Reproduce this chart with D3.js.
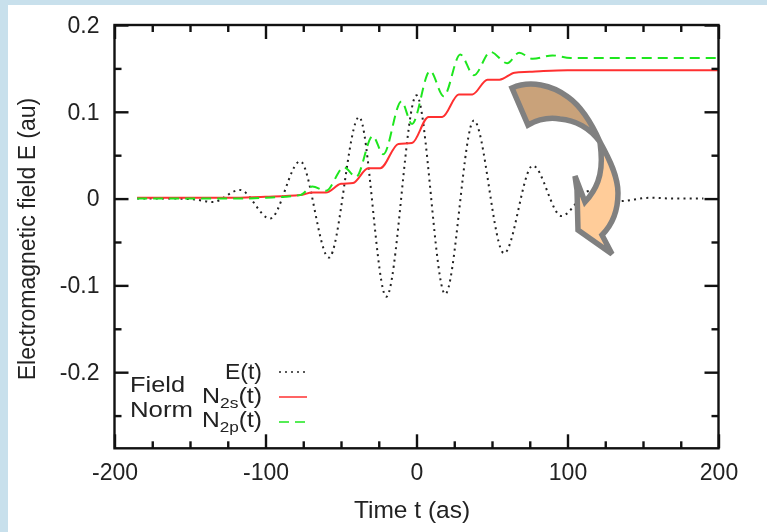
<!DOCTYPE html>
<html><head><meta charset="utf-8">
<script src="https://d3js.org/d3.v7.min.js"></script>
<style>html,body{margin:0;padding:0;background:#fff}svg{display:block}text{font-family:"Liberation Sans",Arial,sans-serif;fill:#222}</style>
</head><body><div id="c"></div>
<script>
const xTicksMajor=[-200,-100,0,100,200];
const xTicksMinor=[-175,-150,-125,-75,-50,-25,25,50,75,125,150,175];
const yTicksMajor=[0.2,0.1,0,-0.1,-0.2];
const yTicksMinor=[0.15,0.05,-0.05,-0.15,-0.25];
const fieldT=[-185,-160,-147,-135,-117,-97,-77,-58,-38,-20,0,19,38,58,77,96,115,134,155,170,190];
const fieldE=[0,0,-0.001,-0.004,0.01,-0.023,0.043,-0.068,0.094,-0.113,0.119,-0.11,0.09,-0.063,0.038,-0.02,0.009,-0.003,0.001,0,0];
const n2sT=[-185,-120,-100,-77,-69,-60,-50,-42,-32,-24,-12,-3,8,17,28,37,47,55,65,75,84,100,200];
const n2sV=[0.001,0.001,0.002,0.004,0.007,0.007,0.017,0.018,0.035,0.035,0.063,0.064,0.094,0.094,0.12,0.12,0.137,0.137,0.145,0.146,0.147,0.148,0.148];
const n2pT=[-185,-120,-100,-77,-69,-60,-48,-40,-29,-22,-10,-3,9,18,29,38,49,60,68,77,90,102,200];
const n2pV=[0,0,0.001,0.004,0.014,0.009,0.036,0.025,0.072,0.051,0.112,0.086,0.147,0.118,0.166,0.142,0.169,0.156,0.168,0.161,0.165,0.162,0.162];

const W=767,H=532,L=114.5,R=718.5,T=25,B=448.3;
const svg=d3.select("#c").append("svg").attr("width",W).attr("height",H);
svg.append("rect").attr("width",W).attr("height",H).attr("fill","#c8e0ec");
svg.append("rect").attr("x",8).attr("y",5).attr("width",W-8).attr("height",H-5).attr("fill","#fff");
const g=svg.append("g").style("filter","blur(0.5px)");
const x=d3.scaleLinear().domain([-200,200]).range([L,R]);
const y=d3.scaleLinear().domain([0.2,-0.2877]).range([T,B]);
const line=d3.line().x(d=>x(d[0])).y(d=>y(d[1])).curve(d3.curveMonotoneX);

g.append("path").attr("d",line(d3.zip(fieldT,fieldE))).attr("fill","none").attr("stroke","#222").attr("stroke-width",2).attr("stroke-dasharray","2 4.2");
g.append("path").attr("d",line(d3.zip(n2sT,n2sV))).attr("fill","none").attr("stroke","#ff3030").attr("stroke-width",2);
g.append("path").attr("d",line(d3.zip(n2pT,n2pV))).attr("fill","none").attr("stroke","#1ee61e").attr("stroke-width",2).attr("stroke-dasharray","10 6");

function ax(gen,tr,size,vals,labels){
  const a=g.append("g").attr("transform",tr).call(gen.tickValues(vals).tickSize(size).tickSizeOuter(0).tickFormat(labels?labels:""));
  a.selectAll("path.domain").remove();
  a.selectAll("line").attr("stroke","#111").attr("stroke-width",2.4);
  return a;
}
const fy=d=>d===0?"0":d3.format(".1f")(d).replace("\u2212","-");
const fx=d=>String(d);
const fs=23;
let a1=ax(d3.axisBottom(x),`translate(0,${B})`,-14,xTicksMajor,fx);
a1.selectAll("text").attr("y",15).attr("dy","0.71em").attr("font-size",fs).style("fill","#222");
ax(d3.axisBottom(x),`translate(0,${B})`,-7,xTicksMinor);
ax(d3.axisTop(x),`translate(0,${T})`,-14,xTicksMajor);
ax(d3.axisTop(x),`translate(0,${T})`,-7,xTicksMinor);
let a2=ax(d3.axisLeft(y),`translate(${L},0)`,-14,yTicksMajor,fy);
a2.selectAll("text").attr("x",-15).attr("dy","0.32em").attr("font-size",fs).style("fill","#222");
ax(d3.axisLeft(y),`translate(${L},0)`,-7,yTicksMinor);
ax(d3.axisRight(y),`translate(${R},0)`,-14,yTicksMajor);
ax(d3.axisRight(y),`translate(${R},0)`,-7,yTicksMinor);
g.append("rect").attr("x",L).attr("y",T).attr("width",R-L).attr("height",B-T).attr("fill","none").attr("stroke","#111").attr("stroke-width",2.4);

g.append("text").attr("x",412).attr("y",518).attr("text-anchor","middle").attr("font-size",24.5).text("Time t (as)");
g.append("text").attr("transform","translate(35,239) rotate(-90)").attr("text-anchor","middle").attr("font-size",23).text("Electromagnetic field E (au)");

g.append("text").attr("x",130).attr("y",392).attr("font-size",21.5).attr("textLength",55).attr("lengthAdjust","spacingAndGlyphs").text("Field");
g.append("text").attr("x",130).attr("y",417).attr("font-size",21.5).attr("textLength",63).attr("lengthAdjust","spacingAndGlyphs").text("Norm");
const lg=[["E","","#222","2 4",379,372,37],["N","2s","#ff3030",null,403,397,60],["N","2p","#1ee61e","10 6",427,422,60]];
lg.forEach(d=>{
  const t=g.append("text").attr("x",262).attr("y",d[4]).attr("text-anchor","end").attr("font-size",21.5);
  t.append("tspan").text(d[0]);
  if(d[1]) t.append("tspan").attr("dy",5).attr("font-size",15).text(d[1]);
  t.append("tspan").attr("dy",d[1]?-5:0).text("(t)");
  t.attr("textLength",d[6]).attr("lengthAdjust","spacingAndGlyphs");
  const l=g.append("line").attr("x1",279).attr("x2",307).attr("y1",d[5]).attr("y2",d[5]).attr("stroke",d[2]).attr("stroke-width",1.5);
  if(d[3]) l.attr("stroke-dasharray",d[3]);
});

const ag=svg.append("g").style("filter","blur(0.3px)");
ag.append("path").attr("d","M512,88 C530,80 552,85 568,97 C582,107 592,124 600,142 C590,128 575,120 560,119 C548,117 537,120 528,125 Z").attr("fill","#c9a27a").attr("stroke","#808080").attr("stroke-width",5.5).attr("stroke-linejoin","miter");
ag.append("path").attr("d","M600,142 C610,160 618,177 618,193 C618,212 612,225 602,235 L612,254 L578,230 L577,190 L575,176 L585,202 C596,190 603,176 601,152 Z").attr("fill","#ffcc99").attr("stroke","#808080").attr("stroke-width",5.5).attr("stroke-linejoin","miter");
</script></body></html>
